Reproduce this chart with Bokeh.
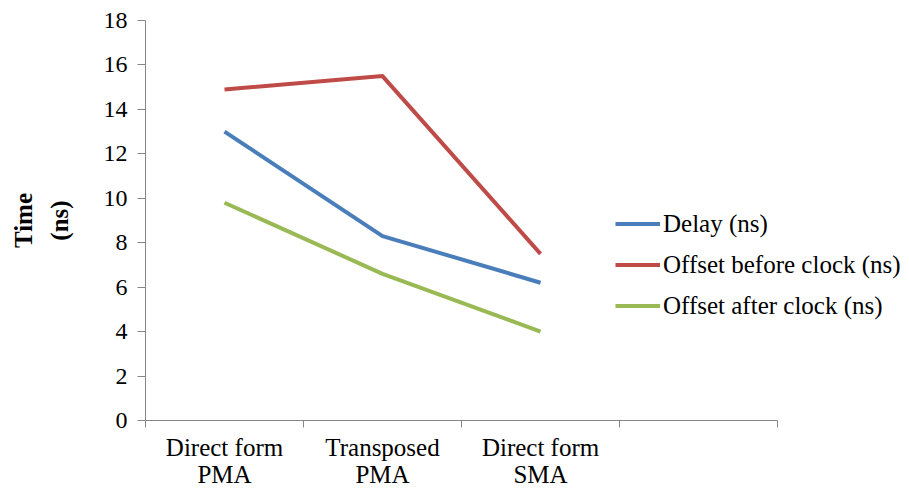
from bokeh.plotting import figure
from bokeh.models import Range1d, FixedTicker, Legend, LegendItem, ColumnDataSource
from bokeh.embed import file_html
from bokeh.resources import INLINE

categories = ["Direct form\nPMA", "Transposed\nPMA", "Direct form\nSMA"]
delay = [13.0, 8.3, 6.2]
offset_before = [14.9, 15.5, 7.5]
offset_after = [9.8, 6.6, 4.0]
series_names = ["Delay (ns)", "Offset before clock (ns)", "Offset after clock (ns)"]
colors = ["#4A7EBB", "#BE4B48", "#98B954"]
y_ticks = list(range(0, 19, 2))

n_slots = len(categories) + 1  # reference shows one empty category slot
xpos = [i + 0.5 for i in range(len(categories))]

FONT = "Liberation Serif"

# frame spans to the right edge so the legend is not clipped; axis is bounded to the slots
p = figure(width=909, height=490, x_range=Range1d(0, 4.835), y_range=Range1d(0, 18),
           output_backend="svg", toolbar_location=None,
           min_border_left=145, min_border_right=0, min_border_top=20, min_border_bottom=70)
p.outline_line_color = None
p.xgrid.visible = False
p.ygrid.visible = False
p.background_fill_color = "white"
p.border_fill_color = "white"

src = ColumnDataSource(dict(x=xpos, d=delay, ob=offset_before, oa=offset_after))
renderers = []
for col, c in zip(["d", "ob", "oa"], colors):
    r = p.line("x", col, source=src, line_color=c, line_width=4, line_join="round")
    renderers.append(r)

# y axis
ya = p.yaxis[0]
ya.ticker = FixedTicker(ticks=y_ticks)
ya.axis_line_color = "#868686"
ya.major_tick_line_color = "#868686"
ya.major_tick_out = 8
ya.major_tick_in = 0
ya.minor_tick_line_color = None
ya.major_label_standoff = 10
ya.major_label_text_font = FONT
ya.major_label_text_font_size = "24px"
ya.major_label_text_color = "black"
ya.axis_label = "Time\n(ns)"
ya.axis_label_text_font = FONT
ya.axis_label_text_font_style = "bold"
ya.axis_label_text_font_size = "25px"
ya.axis_label_text_color = "black"
ya.axis_label_text_line_height = 1.3
ya.axis_label_standoff = 28

# x axis
xa = p.xaxis[0]
xa.bounds = (0, n_slots)
tick_centers = xpos + [len(categories) + 0.5]
xa.ticker = FixedTicker(ticks=tick_centers, minor_ticks=list(range(0, n_slots + 1)))
xa.major_label_overrides = {float(x): lab for x, lab in zip(xpos, categories)} | {float(len(categories) + 0.5): ""}
xa.axis_line_color = "#868686"
xa.major_tick_line_color = None
xa.major_tick_out = 0
xa.major_tick_in = 0
xa.minor_tick_line_color = "#868686"
xa.minor_tick_out = 7
xa.minor_tick_in = 0
xa.major_label_standoff = 6
xa.major_label_text_font = FONT
xa.major_label_text_font_size = "25px"
xa.major_label_text_color = "black"
xa.major_label_text_line_height = 1.0

legend = Legend(items=[LegendItem(label=nm, renderers=[r]) for nm, r in zip(series_names, renderers)],
                location=(470, 94), orientation="vertical",
                padding=0, margin=0, spacing=0,
                glyph_width=45, glyph_height=41, label_height=41, label_standoff=3,
                border_line_color=None, background_fill_alpha=0,
                label_text_font=FONT, label_text_font_size="25px", label_text_color="black")
p.add_layout(legend, "center")

open("out.html", "w").write(file_html(p, INLINE))
